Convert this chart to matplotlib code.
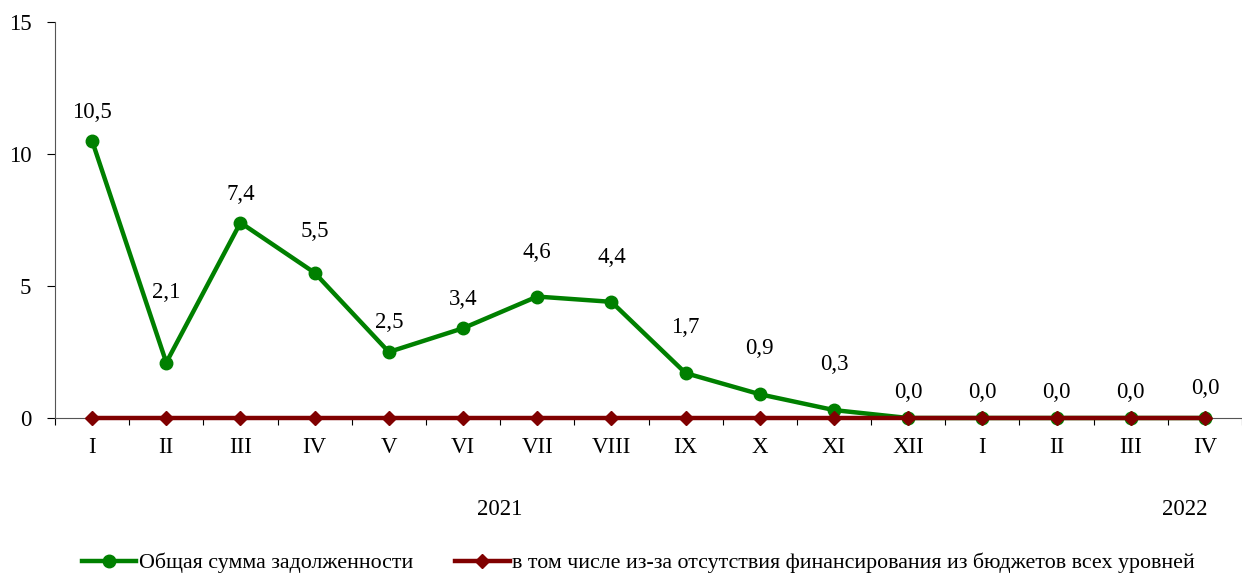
import matplotlib
matplotlib.use("Agg")
import matplotlib.pyplot as plt
import numpy as np

plt.rcParams['font.family'] = ['Liberation Serif', 'DejaVu Serif']

months = ["I", "II", "III", "IV", "V", "VI", "VII", "VIII", "IX", "X", "XI", "XII",
          "I", "II", "III", "IV"]
total_debt = [10.5, 2.1, 7.4, 5.5, 2.5, 3.4, 4.6, 4.4, 1.7, 0.9, 0.3, 0.0,
              0.0, 0.0, 0.0, 0.0]
budget_debt = [0.0] * 16
value_labels = ["10,5", "2,1", "7,4", "5,5", "2,5", "3,4", "4,6", "4,4", "1,7",
                "0,9", "0,3", "0,0", "0,0", "0,0", "0,0", "0,0"]
years = ["2021", "2022"]
series_names = ["Общая сумма задолженности",
                "в том числе из-за отсутствия финансирования из бюджетов всех уровней"]

# label vertical offsets in pixels (layout only)
label_offsets_px = [28, 70, 28, 41, 30, 29, 44, 44, 46, 46, 46, 26, 26, 26, 26, 29]

W, H = 1242, 577
fig = plt.figure(figsize=(W / 100, H / 100), dpi=100)
left, bottom = 55 / W, (H - 418) / H
right, top = 1242 / W, (H - 22) / H
ax = fig.add_axes([left, bottom, right - left, top - bottom])

x = np.arange(len(months))
green = "#008000"
red = "#800000"
ax.plot(x, total_debt, color=green, lw=3.2, marker="o", ms=9, zorder=3,
        label=series_names[0], clip_on=False)
ax.plot(x, budget_debt, color=red, lw=3.2, marker="D", ms=7.5, zorder=4,
        label=series_names[1], clip_on=False)

for xi, yi, lab, off in zip(x, total_debt, value_labels, label_offsets_px):
    ax.annotate(lab, (xi, yi), xytext=(0, off * 0.72), textcoords="offset points",
                ha="center", va="center", fontsize=16.5)

ax.set_xlim(-0.5, 15.4)
ax.set_ylim(0, 15)
ax.set_yticks([0, 5, 10, 15])
ax.set_yticklabels(["0", "5", "10", "15"])
ax.set_xticks(x)
ax.set_xticklabels(months)
ax.set_xticks(np.arange(-0.5, 15.6, 1), minor=True)
ax.tick_params(axis="x", which="major", length=0, pad=14, labelsize=16.5)
ax.tick_params(axis="x", which="minor", length=5, direction="out", width=0.8)
ax.tick_params(axis="y", length=6, width=0.8, pad=11, labelsize=16.5)
for s in ["top", "right"]:
    ax.spines[s].set_visible(False)
for s in ["left", "bottom"]:
    ax.spines[s].set_linewidth(0.8)
    ax.spines[s].set_color("#555555")

ax.text(5.5, -3.45, years[0], ha="center", va="center", fontsize=16.5)
ax.text(15.03, -3.45, years[1], ha="right", va="center", fontsize=16.5)

leg = fig.legend(loc="center", bbox_to_anchor=(0.514, (H - 563) / H), ncol=2,
                 frameon=False, fontsize=15.8, handlelength=2.5, handletextpad=0.12,
                 columnspacing=1.9)

fig.savefig("out.png", dpi=100)
